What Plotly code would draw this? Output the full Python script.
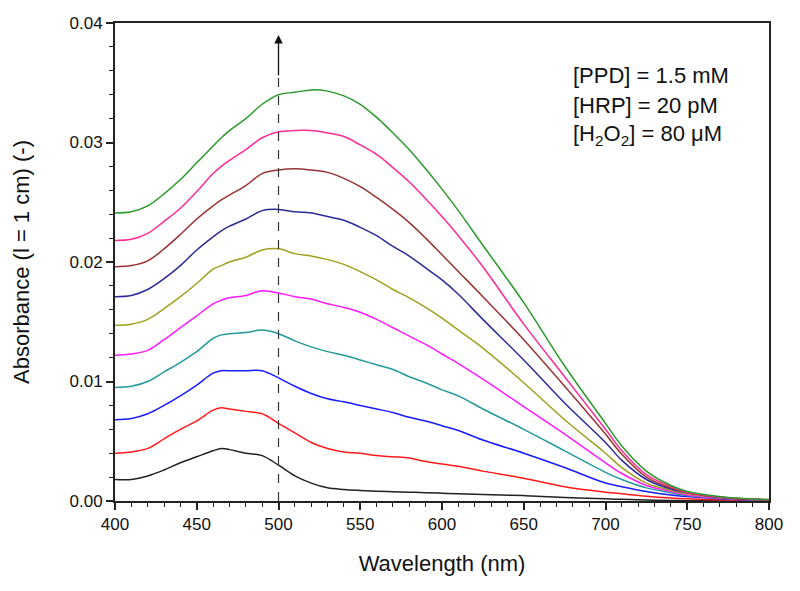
import plotly.graph_objects as go

wavelength = [400, 410, 420, 430, 440, 450, 460, 465, 470, 480, 490, 500, 510, 520, 530, 540,
              550, 560, 570, 580, 590, 600, 610, 625, 650, 675, 700, 710, 725, 740, 750, 775, 800]

abs_1 = [0.0018, 0.0018, 0.0021, 0.0026, 0.0032, 0.0037, 0.0042, 0.0044, 0.0043, 0.0040, 0.0038, 0.0030,
         0.0021, 0.0015, 0.0011, 0.00096, 0.00088, 0.00082, 0.00078, 0.00074, 0.0007, 0.00065, 0.0006,
         0.00055, 0.00045, 0.0003, 0.00018, 0.00014, 0.00008, 0.00005, 0.00003, 0.00001, 0.0]
abs_2 = [0.0040, 0.0041, 0.0044, 0.0052, 0.0060, 0.0067, 0.0076, 0.0078, 0.0077, 0.0075, 0.0073, 0.0065,
         0.0057, 0.0049, 0.0044, 0.0041, 0.0040, 0.0038, 0.0037, 0.0036, 0.0033, 0.0031, 0.0029,
         0.0025, 0.0019, 0.0012, 0.00074, 0.0006, 0.0004, 0.00025, 0.00018, 0.00008, 0.00003]
abs_3 = [0.0068, 0.0069, 0.0073, 0.0080, 0.0088, 0.0097, 0.0107, 0.0109, 0.0109, 0.0109, 0.0109, 0.0103,
         0.0096, 0.0090, 0.00855, 0.0083, 0.0080, 0.0077, 0.0074, 0.0070, 0.0067, 0.0063, 0.0059,
         0.0051, 0.0040, 0.0028, 0.0015, 0.0012, 0.0008, 0.0005, 0.00037, 0.00015, 0.00005]
abs_4 = [0.0095, 0.0096, 0.0100, 0.0108, 0.0116, 0.0125, 0.0136, 0.0139, 0.0140, 0.0141, 0.0143, 0.0140,
         0.0134, 0.0129, 0.0125, 0.0122, 0.0118, 0.0114, 0.0110, 0.0104, 0.0099, 0.0093, 0.0088,
         0.0077, 0.0060, 0.0042, 0.0024, 0.0018, 0.0011, 0.0007, 0.00045, 0.00018, 0.00006]
abs_5 = [0.0122, 0.0123, 0.0126, 0.0135, 0.0145, 0.0155, 0.0165, 0.0168, 0.0170, 0.0172, 0.0176, 0.0174,
         0.0171, 0.0169, 0.0165, 0.0162, 0.0158, 0.0152, 0.0145, 0.0138, 0.0131, 0.0123, 0.0115,
         0.0102, 0.0079, 0.0056, 0.0032, 0.0023, 0.0013, 0.0008, 0.0005, 0.0002, 0.00007]
abs_6 = [0.0147, 0.0148, 0.0152, 0.0161, 0.0171, 0.0182, 0.0194, 0.0197, 0.0200, 0.0204, 0.0210, 0.0211,
         0.0207, 0.0205, 0.0202, 0.0198, 0.0192, 0.0185, 0.0177, 0.0170, 0.0162, 0.0153, 0.0143,
         0.0128, 0.0099, 0.0068, 0.0040, 0.0028, 0.0015, 0.0009, 0.0006, 0.00022, 0.00008]
abs_7 = [0.0171, 0.0172, 0.0177, 0.0186, 0.0197, 0.0210, 0.0221, 0.0226, 0.0230, 0.0236, 0.0243, 0.0244,
         0.0242, 0.0241, 0.0238, 0.0235, 0.0229, 0.0222, 0.0213, 0.0205, 0.0195, 0.0185, 0.0173,
         0.0152, 0.0118, 0.0082, 0.0049, 0.0034, 0.0018, 0.0010, 0.0007, 0.00025, 0.0001]
abs_8 = [0.0196, 0.0197, 0.0201, 0.0211, 0.0223, 0.0236, 0.0247, 0.0252, 0.0256, 0.0264, 0.0274, 0.0277,
         0.0278, 0.0277, 0.0275, 0.0270, 0.0263, 0.0254, 0.0244, 0.0233, 0.0220, 0.0206, 0.0192,
         0.0171, 0.0135, 0.0096, 0.0056, 0.0039, 0.0020, 0.0011, 0.0007, 0.00025, 0.0001]
abs_9 = [0.0218, 0.0219, 0.0224, 0.0234, 0.0245, 0.0259, 0.0274, 0.0280, 0.0285, 0.0294, 0.0304, 0.0309,
         0.0310, 0.0310, 0.0308, 0.0305, 0.0298, 0.0290, 0.0279, 0.0267, 0.0253, 0.0238, 0.0222,
         0.0196, 0.0148, 0.0104, 0.0060, 0.0042, 0.0022, 0.0012, 0.0007, 0.00028, 0.00011]
abs_10 = [0.0241, 0.0242, 0.0247, 0.0257, 0.0269, 0.0283, 0.0297, 0.0304, 0.0310, 0.0320, 0.0332, 0.0340,
          0.0342, 0.0344, 0.0343, 0.0339, 0.0332, 0.0321, 0.0308, 0.0294, 0.0278, 0.0261, 0.0243,
          0.0214, 0.0166, 0.0113, 0.0065, 0.0046, 0.0025, 0.0013, 0.0008, 0.0003, 0.00012]

series = [abs_1, abs_2, abs_3, abs_4, abs_5, abs_6, abs_7, abs_8, abs_9, abs_10]
colors = ["#222222", "#ff1a1a", "#1a1aff", "#239999", "#ff1aff",
          "#a0a020", "#2a2a9a", "#993333", "#ff2a95", "#2a9a2a"]

arrow_x = 500
arrow_dash_top = 0.0355
arrow_tip = 0.039

fig = go.Figure()
for s, c in zip(series, colors):
    fig.add_trace(go.Scatter(x=wavelength, y=s, mode="lines",
                             line=dict(color=c, width=1.5, shape="spline", smoothing=1.0),
                             showlegend=False, hoverinfo="skip"))

fig.add_shape(type="line", x0=arrow_x, x1=arrow_x, y0=0, y1=arrow_dash_top,
              xref="x", yref="y", line=dict(color="#333333", width=1.2, dash="dash"))
fig.add_annotation(x=arrow_x, y=arrow_tip, ax=arrow_x, ay=arrow_dash_top,
                   xref="x", yref="y", axref="x", ayref="y", text="",
                   showarrow=True, arrowhead=2, arrowsize=1.3, arrowwidth=1.3, arrowcolor="#111111")

labels = ["[PPD] = 1.5 mM", "[HRP] = 20 pM", "[H<sub>2</sub>O<sub>2</sub>] = 80 μM"]
for i, t in enumerate(labels):
    fig.add_annotation(x=0.697, y=0.891 - i * 0.0628, xref="paper", yref="paper",
                       text=t, showarrow=False, xanchor="left", yanchor="middle",
                       font=dict(family="Liberation Sans, Arial", size=22, color="#111111"))

axis_font = dict(family="Liberation Sans, Arial", size=17, color="#111111")
title_font = dict(family="Liberation Sans, Arial", size=22, color="#111111")
fig.update_xaxes(range=[400, 800], tickvals=[400, 450, 500, 550, 600, 650, 700, 750, 800],
                 ticks="outside", ticklen=7, tickwidth=1.5, tickcolor="#222222",
                 minor=dict(dtick=10, ticks="outside", ticklen=4, tickwidth=1.2, tickcolor="#222222"),
                 showline=True, linecolor="#222222", linewidth=2, mirror=True,
                 showgrid=False, zeroline=False, tickfont=axis_font, automargin=False,
                 title=dict(text="Wavelength (nm)", font=title_font, standoff=22))
fig.update_yaxes(range=[0, 0.04], tickvals=[0, 0.01, 0.02, 0.03, 0.04], tickformat=".2f",
                 ticks="outside", ticklen=7, tickwidth=1.5, tickcolor="#222222",
                 minor=dict(dtick=0.002, ticks="outside", ticklen=4, tickwidth=1.2, tickcolor="#222222"),
                 showline=True, linecolor="#222222", linewidth=2, mirror=True,
                 showgrid=False, zeroline=False, tickfont=axis_font, automargin=False,
                 title=dict(text="Absorbance (l = 1 cm) (-)", font=title_font, standoff=34))

fig.update_layout(width=792, height=583, plot_bgcolor="white", paper_bgcolor="white",
                  margin=dict(l=107, r=31, t=15, b=90))

fig.write_html("out.html")
